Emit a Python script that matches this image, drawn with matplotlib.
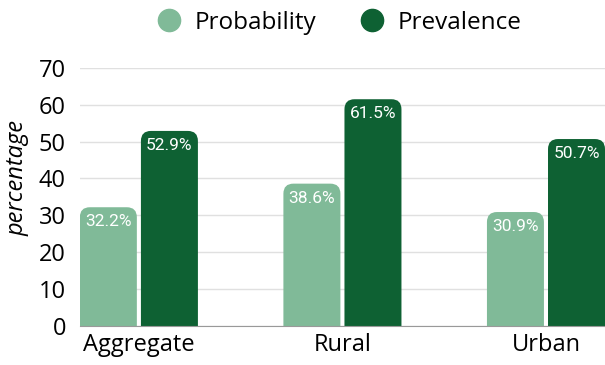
import numpy as np
import matplotlib.pyplot as plt
from matplotlib.patches import FancyBboxPatch
from matplotlib.lines import Line2D

categories = ['Aggregate', 'Rural', 'Urban']
probability = [32.2, 38.6, 30.9]
prevalence = [52.9, 61.5, 50.7]
series_names = ['Probability', 'Prevalence']
colors = ['#80ba98', '#0e6133']

plt.rcParams['font.family'] = ['Open Sans', 'DejaVu Sans']

fig = plt.figure(figsize=(6.05, 3.65), dpi=100)
ax = fig.add_axes([0.132, 0.107, 0.868, 0.707])

x = np.arange(len(categories))
width = 0.28
offsets = [-0.15, 0.15]

ax.set_xlim(-0.29, 2.29)
ax.set_ylim(0, 70)

# rounded top corners: radius in pixels, converted to data units
radius_px = 10
p0 = ax.transData.inverted().transform((0, 0))
p1 = ax.transData.inverted().transform((radius_px, radius_px))
rx = p1[0] - p0[0]
ry = p1[1] - p0[1]
aspect = ry / rx

for vals, off, col in zip([probability, prevalence], offsets, colors):
    for xi, v in zip(x, vals):
        left = xi + off - width / 2
        patch = FancyBboxPatch((left, -3 * ry), width, v + 3 * ry,
                               boxstyle='round,pad=0,rounding_size=%f' % rx,
                               mutation_aspect=aspect, facecolor=col,
                               edgecolor='none', zorder=3)
        patch.set_clip_on(True)
        ax.add_patch(patch)
        ax.annotate('%.1f%%' % v, (xi + off, v), xytext=(0, -5),
                    textcoords='offset points', ha='center', va='top',
                    color='white', fontsize=12.5, family=['Roboto', 'DejaVu Sans'],
                    zorder=4)

ax.set_xticks(x)
ax.set_xticklabels(categories, fontsize=17)
ax.set_yticks(np.arange(0, 71, 10))
ax.tick_params(axis='y', labelsize=17, length=0, pad=10)
ax.tick_params(axis='x', length=0, pad=5)
ax.grid(axis='y', color='#e0e0e0', linewidth=1, zorder=0)
ax.set_axisbelow(True)
for s in ['top', 'right', 'left']:
    ax.spines[s].set_visible(False)
ax.spines['bottom'].set_color('#999999')
ax.spines['bottom'].set_zorder(5)

ax.set_ylabel('percentage', fontsize=17, style='italic')
ax.yaxis.set_label_coords(-0.095, 0.574)

handles = [Line2D([], [], marker='o', linestyle='none', markersize=16,
                  markerfacecolor=c, markeredgecolor=c) for c in colors]
fig.legend(handles, series_names, loc='center', bbox_to_anchor=(0.55, 0.938),
           ncol=2, frameon=False, fontsize=17.5, handletextpad=0.05,
           columnspacing=1.3)

fig.savefig('out.png', dpi=100)
